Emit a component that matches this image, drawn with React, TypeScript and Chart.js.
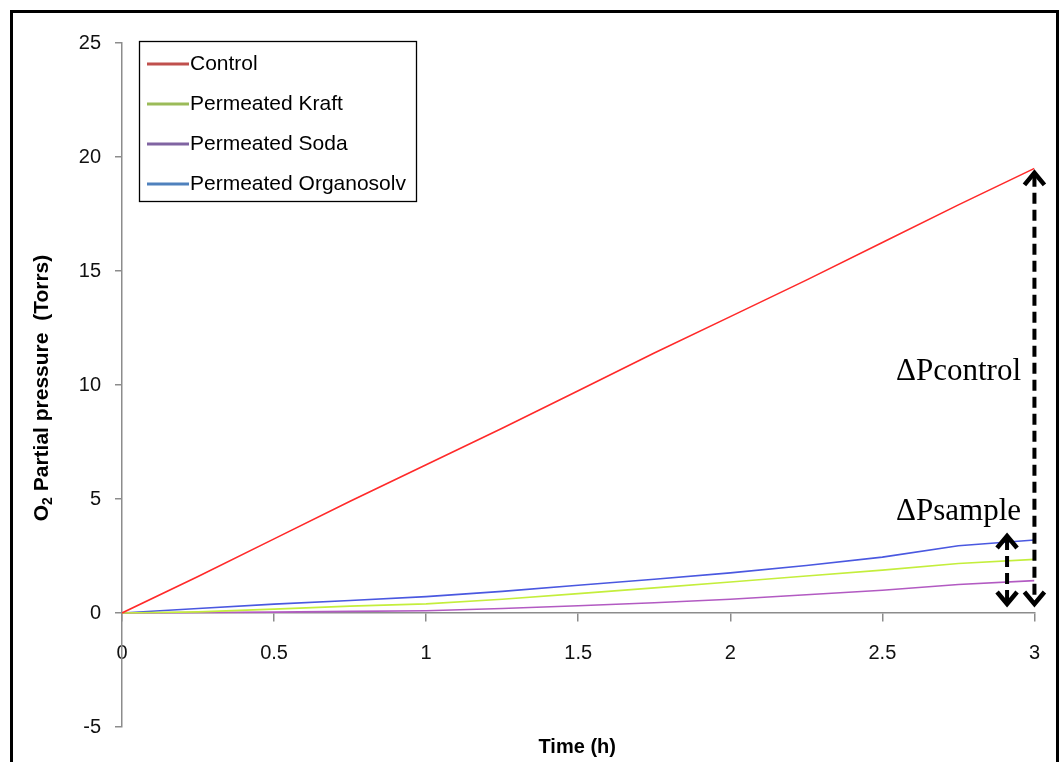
import React, { useEffect, useRef } from "react";
import { Chart, registerables } from "chart.js";

Chart.register(...registerables);

// ---------- data ----------
const timeH = [0, 0.25, 0.5, 0.75, 1, 1.25, 1.5, 1.75, 2, 2.25, 2.5, 2.75, 3];
const control = [0, 1.6, 3.25, 4.9, 6.5, 8.1, 9.75, 11.4, 13.0, 14.6, 16.25, 17.9, 19.5];
const kraft = [0, 0.05, 0.17, 0.3, 0.4, 0.6, 0.85, 1.1, 1.36, 1.62, 1.88, 2.17, 2.35];
const soda = [0, 0.02, 0.04, 0.07, 0.1, 0.2, 0.32, 0.45, 0.6, 0.8, 1.0, 1.25, 1.42];
const organosolv = [0, 0.2, 0.39, 0.55, 0.72, 0.95, 1.22, 1.48, 1.76, 2.08, 2.45, 2.95, 3.2];

const seriesLabels = ["Control", "Permeated Kraft", "Permeated Soda", "Permeated Organosolv"];
const seriesValues = [control, kraft, soda, organosolv];
const lineColors = ["#FF2A2A", "#C4EE3C", "#B25AC2", "#4A58E0"];
const legendColors = ["#C0504D", "#9BBB59", "#8064A2", "#4F81BD"];

const yMin = -5;
const yMax = 25;
const yStep = 5;
const xMin = 0;
const xMax = 3;
const xStep = 0.5;

const xTitle = "Time (h)";
const yTitleMain = "O";
const yTitleSub = "2";
const yTitleRest = " Partial pressure  (Torrs)";

// annotation arrows in data units: [x, top value, bottom value]
const arrowControl = [3.0, 19.35, 0.35];
const arrowSample = [2.91, 3.42, 0.35];
const labelControl = "ΔPcontrol";
const labelSample = "ΔPsample";

const SANS = "'Liberation Sans', Arial, sans-serif";
const SERIF = "'Liberation Serif', 'Times New Roman', serif";

function drawDoubleArrow(ctx: CanvasRenderingContext2D, x: number, yTop: number, yBot: number) {
  ctx.save();
  ctx.strokeStyle = "#000";
  ctx.lineWidth = 4;
  ctx.setLineDash([11, 6]);
  ctx.beginPath();
  ctx.moveTo(x, yTop + 4);
  ctx.lineTo(x, yBot - 4);
  ctx.stroke();
  ctx.setLineDash([]);
  ctx.lineJoin = "miter";
  ctx.lineWidth = 4.5;
  ctx.beginPath();
  ctx.moveTo(x - 10, yTop + 13);
  ctx.lineTo(x, yTop + 1);
  ctx.lineTo(x + 10, yTop + 13);
  ctx.stroke();
  ctx.beginPath();
  ctx.moveTo(x - 10, yBot - 13);
  ctx.lineTo(x, yBot - 1);
  ctx.lineTo(x + 10, yBot - 13);
  ctx.stroke();
  ctx.restore();
}

const decorPlugin = {
  id: "decor",
  afterDatasetsDraw(chart: any) {
    const ctx: CanvasRenderingContext2D = chart.ctx;
    const xs = chart.scales.x;
    const ys = chart.scales.y;

    for (const a of [arrowControl, arrowSample]) {
      drawDoubleArrow(ctx, xs.getPixelForValue(a[0]), ys.getPixelForValue(a[1]), ys.getPixelForValue(a[2]));
    }

    ctx.save();
    ctx.fillStyle = "#000";
    ctx.font = `31px ${SERIF}`;
    ctx.textAlign = "right";
    ctx.textBaseline = "alphabetic";
    ctx.fillText(labelControl, 1021, 380);
    ctx.fillText(labelSample, 1021, 520);
    ctx.restore();

    // legend
    ctx.save();
    ctx.fillStyle = "#fff";
    ctx.fillRect(139, 41, 278, 161);
    ctx.strokeStyle = "#000";
    ctx.lineWidth = 1.3;
    ctx.strokeRect(139.5, 41.5, 277, 160);
    ctx.font = `21px ${SANS}`;
    ctx.textAlign = "left";
    ctx.textBaseline = "middle";
    chart.data.datasets.forEach((ds: any, i: number) => {
      const y = 64 + i * 40;
      ctx.strokeStyle = legendColors[i];
      ctx.lineWidth = 3;
      ctx.beginPath();
      ctx.moveTo(147, y);
      ctx.lineTo(189, y);
      ctx.stroke();
      ctx.fillStyle = "#000";
      ctx.fillText(ds.label, 190, y);
    });
    ctx.restore();
  },
  afterDraw(chart: any) {
    const ctx: CanvasRenderingContext2D = chart.ctx;
    const area = chart.chartArea;

    ctx.save();
    ctx.fillStyle = "#000";
    ctx.font = `bold 20px ${SANS}`;
    ctx.textAlign = "center";
    ctx.textBaseline = "middle";
    ctx.fillText(xTitle, (area.left + area.right) / 2 - 1, 747);
    ctx.restore();

    ctx.save();
    ctx.translate(41, (area.top + area.bottom) / 2 + 3);
    ctx.rotate(-Math.PI / 2);
    ctx.fillStyle = "#000";
    ctx.textBaseline = "alphabetic";
    ctx.textAlign = "left";
    const mainFont = `bold 21px ${SANS}`;
    const subFont = `bold 14px ${SANS}`;
    ctx.font = mainFont;
    const w1 = ctx.measureText(yTitleMain).width;
    const w3 = ctx.measureText(yTitleRest).width;
    ctx.font = subFont;
    const w2 = ctx.measureText(yTitleSub).width;
    let x0 = -(w1 + w2 + w3) / 2;
    ctx.font = mainFont;
    ctx.fillText(yTitleMain, x0, 7);
    x0 += w1;
    ctx.font = subFont;
    ctx.fillText(yTitleSub, x0, 11);
    x0 += w2;
    ctx.font = mainFont;
    ctx.fillText(yTitleRest, x0, 7);
    ctx.restore();

    ctx.save();
    ctx.strokeStyle = "#000";
    ctx.lineWidth = 3;
    ctx.beginPath();
    ctx.moveTo(11.5, 770);
    ctx.lineTo(11.5, 11.5);
    ctx.lineTo(1057.5, 11.5);
    ctx.lineTo(1057.5, 770);
    ctx.stroke();
    ctx.restore();
  },
};

export default function App() {
  const canvasRef = useRef<HTMLCanvasElement | null>(null);

  useEffect(() => {
    const canvas = canvasRef.current;
    if (!canvas) return;
    const chart = new Chart(canvas, {
      type: "line",
      data: {
        datasets: seriesLabels.map((label, i) => ({
          label,
          data: timeH.map((t, j) => ({ x: t, y: seriesValues[i][j] })),
          borderColor: lineColors[i],
          backgroundColor: lineColors[i],
          borderWidth: 1.6,
          pointRadius: 0,
          tension: 0,
          fill: false,
        })),
      },
      options: {
        responsive: false,
        animation: false,
        devicePixelRatio: 1,
        layout: { padding: { left: 0, top: 43, right: 24, bottom: 35 } },
        plugins: {
          legend: { display: false },
          tooltip: { enabled: false },
          title: { display: false },
        },
        scales: {
          x: {
            type: "linear",
            position: { y: 0 },
            min: xMin,
            max: xMax,
            ticks: {
              stepSize: xStep,
              color: "#111",
              font: { family: SANS, size: 20 },
              padding: 20,
              maxRotation: 0,
              callback: (v: any) => String(Number(v)),
            },
            grid: {
              drawOnChartArea: false,
              drawTicks: true,
              tickLength: 8,
              color: "#8c8c8c",
              lineWidth: 1.5,
            },
            border: { display: true, color: "#8c8c8c", width: 1.5 },
          },
          y: {
            type: "linear",
            min: yMin,
            max: yMax,
            afterFit: (scale: any) => {
              scale.width = 122;
            },
            ticks: {
              stepSize: yStep,
              color: "#111",
              font: { family: SANS, size: 20 },
              padding: 14,
            },
            grid: {
              drawOnChartArea: false,
              drawTicks: true,
              tickLength: 7,
              color: "#8c8c8c",
              lineWidth: 1.5,
            },
            border: { display: true, color: "#8c8c8c", width: 1.5 },
          },
        },
      },
      plugins: [decorPlugin],
    });
    return () => chart.destroy();
  }, []);

  return (
    <div style={{ position: "absolute", left: 0, top: 0, width: 1060, height: 762, background: "#fff", overflow: "hidden" }}>
      <canvas ref={canvasRef} width={1060} height={762} style={{ display: "block" }} />
    </div>
  );
}
